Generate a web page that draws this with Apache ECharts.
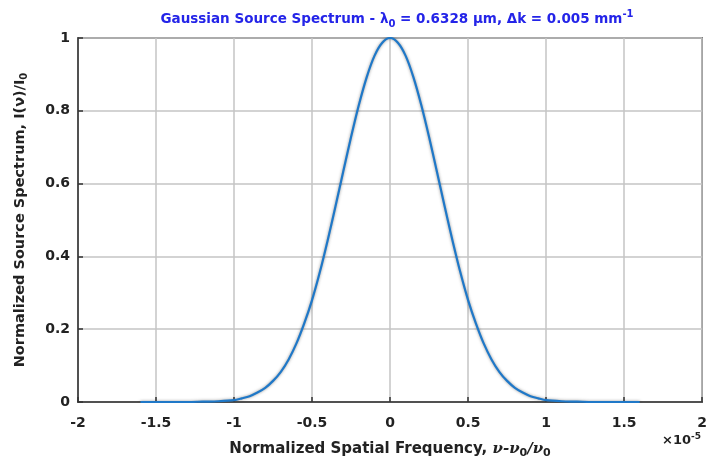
<!DOCTYPE html>
<html><head><meta charset="utf-8">
<script src="https://cdn.jsdelivr.net/npm/echarts@6/dist/echarts.min.js"></script>
<style>html,body{margin:0;padding:0;background:#fff}#c{width:710px;height:464px}</style>
</head><body><div id="c"></div>
<script>
const xValues = [-1.6,-1.5,-1.4,-1.3,-1.2,-1.1,-1.0,-0.95,-0.9,-0.85,-0.8,-0.75,-0.7,-0.65,-0.6,-0.55,-0.5,-0.45,-0.4,-0.35,-0.3,-0.25,-0.2,-0.15,-0.1,-0.05,0,0.05,0.1,0.15,0.2,0.25,0.3,0.35,0.4,0.45,0.5,0.55,0.6,0.65,0.7,0.75,0.8,0.85,0.9,0.95,1.0,1.1,1.2,1.3,1.4,1.5,1.6];
const yValues = [0,0,0,0,0.001,0.002,0.005,0.01,0.016,0.026,0.039,0.058,0.083,0.117,0.161,0.216,0.28,0.357,0.444,0.537,0.633,0.728,0.816,0.892,0.951,0.987,1.0,0.987,0.951,0.892,0.816,0.728,0.633,0.537,0.444,0.357,0.28,0.216,0.161,0.117,0.083,0.058,0.039,0.026,0.016,0.01,0.005,0.002,0.001,0,0,0,0];
const xTicks = ['-2','-1.5','-1','-0.5','0','0.5','1','1.5','2'];
const yTicks = ['0','0.2','0.4','0.6','0.8','1'];

const FONT = '"DejaVu Sans", sans-serif';
const chart = echarts.init(document.getElementById('c'), null, {renderer:'canvas'});
const tickStyle = {fontFamily: FONT, fontWeight: 'bold', fontSize: 14, color: '#222'};
chart.setOption({
  animation: false,
  title: {
    text: 'Gaussian Source Spectrum - λ{sub|0} = 0.6328 μm, Δk = 0.005 mm{sup|-1}',
    left: 392, top: 4, textAlign: 'center',
    textStyle: {
      fontFamily: FONT, fontWeight: 'bold', fontSize: 13.5, color: '#2424e8',
      rich: {
        sub: {fontFamily: FONT, fontWeight: 'bold', fontSize: 10, color: '#2424e8', verticalAlign: 'bottom', padding: [10,0,0,0]},
        sup: {fontFamily: FONT, fontWeight: 'bold', fontSize: 10, color: '#2424e8', verticalAlign: 'top', padding: [0,0,8,0]}
      }
    }
  },
  grid: {left: 78, right: 2, top: 38, bottom: 59, show: true, borderColor: '#333', borderWidth: 1.5},
  xAxis: {
    type: 'value', min: -2, max: 2, interval: 0.5,
    axisLine: {onZero: false, lineStyle: {color: '#333', width: 1.5}},
    axisTick: {inside: true, length: 5, lineStyle: {color: '#333', width: 1.5}},
    splitLine: {lineStyle: {color: '#c4c4c4', width: 1.5}},
    axisLabel: Object.assign({margin: 14, formatter: v => xTicks[Math.round((v + 2) / 0.5)]}, tickStyle),
    name: 'Normalized Spatial Frequency, {it|ν-ν}{sub|0}{it|/ν}{sub|0}',
    nameLocation: 'middle', nameGap: 37,
    nameTextStyle: {
      fontFamily: FONT, fontWeight: 'bold', fontSize: 15, color: '#222',
      rich: {
        it: {fontFamily: '"DejaVu Serif", serif', fontStyle: 'italic', fontWeight: 'bold', fontSize: 15, color: '#222'},
        sub: {fontFamily: FONT, fontWeight: 'bold', fontSize: 11, color: '#222', verticalAlign: 'bottom', padding: [9,0,0,0]}
      }
    }
  },
  yAxis: {
    type: 'value', min: 0, max: 1, interval: 0.2,
    axisLine: {onZero: false, lineStyle: {color: '#333', width: 1.5}},
    axisTick: {inside: true, length: 5, lineStyle: {color: '#333', width: 1.5}},
    splitLine: {lineStyle: {color: '#c4c4c4', width: 1.5}},
    axisLabel: Object.assign({margin: 8, formatter: v => yTicks[Math.round(v / 0.2)]}, tickStyle),
    name: 'Normalized Source Spectrum, I(ν)/I{sub|0}',
    nameLocation: 'middle', nameGap: 49,
    nameTextStyle: {
      fontFamily: FONT, fontWeight: 'bold', fontSize: 14.5, color: '#222',
      rich: {
        sub: {fontFamily: FONT, fontWeight: 'bold', fontSize: 10, color: '#222', verticalAlign: 'bottom', padding: [8,0,0,0]}
      }
    }
  },
  graphic: [{
    type: 'text', left: 662, top: 432,
    style: {
      text: '×10{sup|-5}', fontFamily: FONT, fontWeight: 'bold', fontSize: 13, fill: '#222',
      rich: {sup: {fontFamily: FONT, fontWeight: 'bold', fontSize: 9, fill: '#222', verticalAlign: 'top', padding: [0,0,8,0]}}
    }
  }],
  series: [{
    type: 'line', smooth: 0.3, showSymbol: false,
    data: xValues.map((x, i) => [x, yValues[i]]),
    lineStyle: {color: '#1f78c8', width: 2.2, shadowColor: 'rgba(60,60,60,0.55)', shadowBlur: 3}
  }]
});
</script></body></html>
